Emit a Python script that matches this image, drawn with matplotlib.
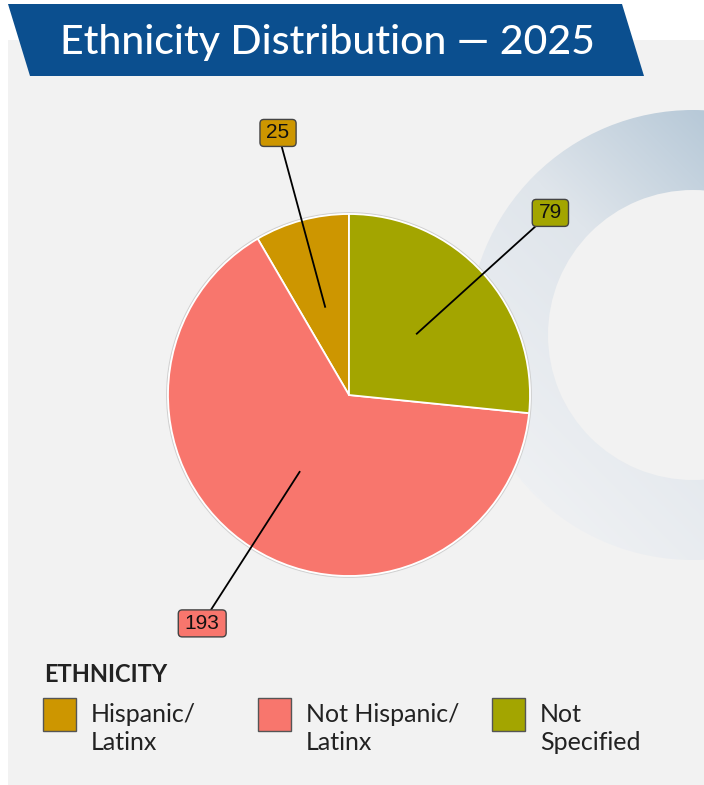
import numpy as np
import matplotlib
matplotlib.use("Agg")
import matplotlib.pyplot as plt
from matplotlib.patches import Polygon, Rectangle, Wedge, Circle, FancyBboxPatch
from matplotlib.colors import LinearSegmentedColormap

# ---- data ----
categories = ["Hispanic/\nLatinx", "Not Hispanic/\nLatinx", "Not\nSpecified"]
counts = [25, 193, 79]
colors = ["#CD9600", "#F8766D", "#A3A500"]
title = "Ethnicity Distribution \u2014 2025"
legend_title = "ETHNICITY"

W, H = 704, 785
fig = plt.figure(figsize=(W / 100, H / 100), dpi=100)
fig.patch.set_facecolor("white")
ax = fig.add_axes([0, 0, 1, 1])


def Y(p):
    # convert a top-down pixel row into the y-up axis coordinate
    return H - p


# background panel
ax.add_patch(Rectangle((8, Y(785)), W - 8, 745, facecolor="#f2f2f2", edgecolor="none", zorder=0))

# decorative gradient ring
rc = (693, Y(335))
r_out, r_in = 225, 145
ring = Wedge(rc, r_out, 0, 360, width=r_out - r_in, facecolor="none", edgecolor="none")
ax.add_patch(ring)
n = 400
xs = np.linspace(rc[0] - r_out, rc[0] + r_out, n)
ys = np.linspace(rc[1] - r_out, rc[1] + r_out, n)
XX, YY = np.meshgrid(xs, ys)
proj = ((XX - rc[0]) + (YY - rc[1])) / np.sqrt(2)
t = np.clip((proj + r_out) / (2 * r_out), 0, 1)
cmap = LinearSegmentedColormap.from_list("ring", ["#eef0f3", "#dfe5eb", "#a9bfd1"])
im = ax.imshow(t, cmap=cmap, extent=(xs[0], xs[-1], ys[0], ys[-1]), origin="lower",
               interpolation="bilinear", zorder=1, vmin=0, vmax=1)
im.set_clip_path(ring)

# title banner
ax.add_patch(Polygon([(8, Y(4)), (622, Y(4)), (644, Y(76)), (30, Y(76))], closed=True,
                     facecolor="#0b4f8f", edgecolor="none", zorder=3))
ax.text(60, Y(54), title, color="white", fontsize=29.5, family="Lato", fontweight="medium",
        ha="left", va="baseline", zorder=4)

# pie
pc = (349, Y(395))
R = 181
ax.add_patch(Circle(pc, R + 1.2, facecolor="none", edgecolor="#d0d0d0", lw=1.0, zorder=4))
wedges, _ = ax.pie(counts, colors=colors, startangle=90, counterclock=True, center=pc, radius=R,
                   wedgeprops=dict(edgecolor="white", linewidth=1.3, zorder=5))
for w in wedges:
    w.set_zorder(5)

ax.set_xlim(0, W)
ax.set_ylim(0, H)
ax.set_aspect("equal")
ax.axis("off")

# value labels with leader lines
renderer = fig.canvas.get_renderer()
for w, val, col in zip(wedges, counts, colors):
    mid = np.deg2rad((w.theta1 + w.theta2) / 2)
    x0, y0 = pc[0] + 0.5 * R * np.cos(mid), pc[1] + 0.5 * R * np.sin(mid)
    x1, y1 = pc[0] + 1.5 * R * np.cos(mid), pc[1] + 1.5 * R * np.sin(mid)
    ax.plot([x0, x1], [y0, y1], color="black", lw=1.3, zorder=6, solid_capstyle="butt")
    txt = ax.text(x1, y1, str(val), fontsize=15, family="Liberation Sans", color="#111111",
                  ha="center", va="center", zorder=8)
    tw = txt.get_window_extent(renderer).width
    bw, bh = tw + 13, 27
    ax.add_patch(FancyBboxPatch((x1 - bw / 2, y1 - bh / 2), bw, bh,
                                boxstyle="round,pad=0,rounding_size=4",
                                facecolor=col, edgecolor="#444444", lw=1.0, zorder=7))

# legend
ax.text(44, Y(682), legend_title, fontsize=17, family="Lato", fontweight="bold",
        color="#222222", ha="left", va="baseline")
sw_x = [43, 258, 492]
for sx, lab, col in zip(sw_x, categories, colors):
    ax.add_patch(Rectangle((sx, Y(731)), 33, 33, facecolor=col, edgecolor="#555555", lw=1.0))
    ax.text(sx + 48, Y(750), lab, fontsize=18, family="Lato", color="#222222",
            ha="left", va="baseline", linespacing=1.28)

fig.savefig("out.png", dpi=100)
